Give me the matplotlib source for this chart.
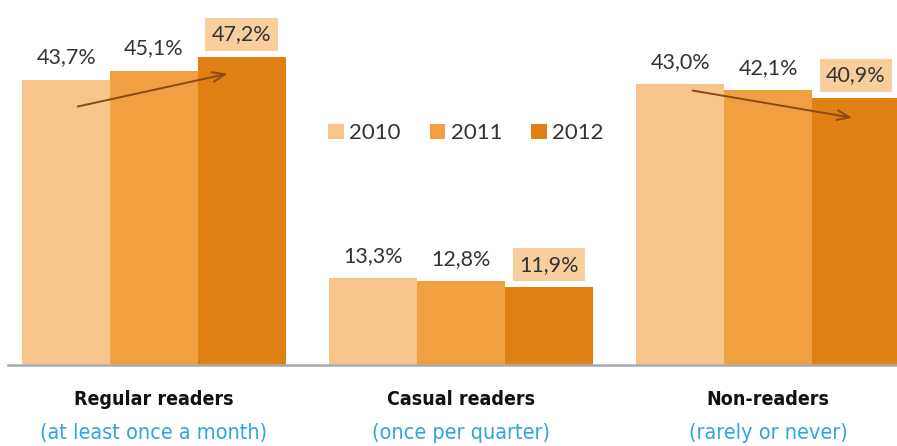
import matplotlib
matplotlib.use("Agg")
import matplotlib.pyplot as plt
import numpy as np

# Share of readers per category and year (%)
categories = ["Regular readers", "Casual readers", "Non-readers"]
subtitles = ["(at least once a month)", "(once per quarter)", "(rarely or never)"]
years = ["2010", "2011", "2012"]
values_2010 = [43.7, 13.3, 43.0]
values_2011 = [45.1, 12.8, 42.1]
values_2012 = [47.2, 11.9, 40.9]
value_labels_2010 = ["43,7%", "13,3%", "43,0%"]
value_labels_2011 = ["45,1%", "12,8%", "42,1%"]
value_labels_2012 = ["47,2%", "11,9%", "40,9%"]

colors = ["#f7c48a", "#f0a040", "#e07f12"]
box_color = "#f8cf9c"
label_font = ["Lato", "DejaVu Sans"]
cat_font = ["DejaVu Sans"]

fig = plt.figure(figsize=(8.97, 4.46), dpi=100)
ax = fig.add_axes([0, 81 / 446, 1, 365 / 446])

group_gap = 3.5
centers = np.arange(len(categories)) * group_gap
series = [values_2010, values_2011, values_2012]
labels = [value_labels_2010, value_labels_2011, value_labels_2012]

for i, (vals, labs, col, yr) in enumerate(zip(series, labels, colors, years)):
    xs = centers + (i - 1)
    ax.bar(xs, vals, width=1.0, color=col, label=yr, linewidth=0)
    for x, v, t in zip(xs, vals, labs):
        kw = {}
        if i == 2:
            kw["bbox"] = dict(boxstyle="square,pad=0.3", fc=box_color, ec="none")
        ax.annotate(t, (x, v), xytext=(0, 9), textcoords="offset points",
                    ha="center", va="bottom", fontsize=15.5, color="#333333",
                    family=label_font, **kw)

ax.set_xlim(-1.756, 8.47)
ax.set_ylim(0, 55.9)
ax.axis("off")

# Baseline under the bars
ax.axhline(0, xmin=0.009, xmax=1, color="#a3abb3", lw=1.8, zorder=5, clip_on=False)

# Trend arrows
arrow_kw = dict(arrowstyle="->,head_length=0.9,head_width=0.35", color="#8a4a14", lw=1.4)
ax.annotate("", xy=(centers[0] + 0.87, 44.7), xytext=(centers[0] - 0.9, 39.5),
            arrowprops=arrow_kw)
ax.annotate("", xy=(centers[2] + 0.99, 37.8), xytext=(centers[2] - 0.89, 42.1),
            arrowprops=arrow_kw)

# Category labels below the axis
for c, name, sub in zip(centers, categories, subtitles):
    ax.annotate(name, (c, 0), xytext=(0, -18), textcoords="offset points",
                ha="center", va="top", fontsize=14, fontweight="bold",
                fontstretch="condensed", color="#111111", family=cat_font,
                annotation_clip=False)
    ax.annotate(sub, (c, 0), xytext=(0, -42), textcoords="offset points",
                ha="center", va="top", fontsize=15.5, fontstretch="condensed",
                color="#2fa6de", family=cat_font, annotation_clip=False)

fig.legend(loc="center", bbox_to_anchor=(466 / 897, 1 - 133 / 446), ncol=3,
           frameon=False, handlelength=0.7, handleheight=0.65, handletextpad=0.25,
           columnspacing=1.3, prop=dict(family=label_font, size=16))
for t in fig.legends[0].get_texts():
    t.set_color("#333333")

fig.savefig("out.png", dpi=100)
